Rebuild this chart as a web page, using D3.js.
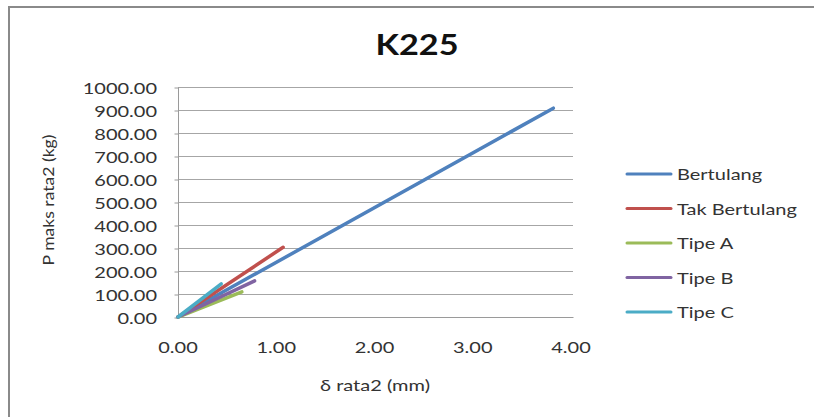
<!DOCTYPE html>
<html><head><meta charset="utf-8">
<script src="https://cdn.jsdelivr.net/npm/d3@7"></script>
<style>
html,body{margin:0;padding:0;background:#fff;}
svg{display:block;}
text{font-family:Lato,"Open Sans",sans-serif;fill:#333;}
</style></head>
<body><svg id="c" width="814" height="417"></svg>
<script>
const title = "K225";
const xTitle = "δ rata2 (mm)";
const yTitle = "P maks rata2 (kg)";
const seriesNames = ["Bertulang","Tak Bertulang","Tipe A","Tipe B","Tipe C"];
const seriesColors = ["#4F81BD","#C0504D","#9BBB59","#8064A2","#4BACC6"];
const deltaValues = [[0,3.82],[0,1.07],[0,0.65],[0,0.78],[0,0.44]];
const loadValues = [[0,908],[0,303],[0,109],[0,157],[0,144]];
const xTicks = [0,1,2,3,4];
const yTicks = [0,100,200,300,400,500,600,700,800,900,1000];

const svg = d3.select("#c");
const SX = 1.25;
svg.append("rect").attr("x",9).attr("y",7).attr("width",830).attr("height",430)
  .attr("fill","#fff").attr("stroke","#8a8a8a").attr("stroke-width",2);

const x = d3.scaleLinear().domain([0,4]).range([178,571]);
const y = d3.scaleLinear().domain([0,1000]).range([317,87]);

function txt(g, s, px, py, anchor, size, weight, sx){
  const t = g.append("text").text(s)
    .attr("transform",`translate(${px},${py}) scale(${sx||SX},1)`)
    .attr("text-anchor",anchor).attr("dominant-baseline","central")
    .style("font-size",size+"px");
  if(weight) t.style("font-weight",weight);
  return t;
}

// gridlines
const grid = svg.append("g");
yTicks.forEach(v=>{
  grid.append("line").attr("x1",178).attr("x2",573).attr("y1",y(v)+0.5).attr("y2",y(v)+0.5)
    .attr("stroke", v===0 ? "#9a9a9a" : "#a6a6a6").attr("stroke-width",1);
});
// axes via d3
const yAxis = svg.append("g").attr("transform","translate(178.5,0.5)")
  .call(d3.axisLeft(y).tickValues(yTicks).tickSize(4).tickFormat(""));
yAxis.select(".domain").attr("stroke","#9a9a9a").attr("d",`M0,${y(1000)}V${y(0)}`);
yAxis.selectAll(".tick line").attr("stroke","#9a9a9a");
const xAxis = svg.append("g").attr("transform","translate(0.5,317.5)")
  .call(d3.axisBottom(x).tickValues(xTicks).tickSize(0).tickFormat(""));
xAxis.select(".domain").attr("stroke","#9a9a9a").attr("d","M178,0H573");

// tick labels
yTicks.forEach(v=> txt(svg, d3.format(".2f")(v), 157, y(v)+1, "end", 16));
xTicks.forEach(v=> txt(svg, d3.format(".2f")(v), x(v), 347, "middle", 16));

// titles
txt(svg, title, 417, 44, "middle", 29, "bold", 1.18).style("fill","#111");
txt(svg, xTitle, 375, 385, "middle", 16);
svg.append("text").text(yTitle)
  .attr("transform",`translate(48,200) rotate(-90) scale(1.1,1)`)
  .attr("text-anchor","middle").attr("dominant-baseline","central")
  .style("font-size","16px");

// series
const line = d3.line().x(d=>x(d[0])).y(d=>y(d[1]));
seriesNames.forEach((n,i)=>{
  const pts = deltaValues[i].map((d,j)=>[d, loadValues[i][j]]);
  svg.append("path").attr("d",line(pts)).attr("fill","none")
    .attr("stroke",seriesColors[i]).attr("stroke-width",3.5).attr("stroke-linecap","round");
});
// legend
seriesNames.forEach((n,i)=>{
  const ly = 174 + i*34.5;
  svg.append("line").attr("x1",627).attr("x2",671).attr("y1",ly).attr("y2",ly)
    .attr("stroke",seriesColors[i]).attr("stroke-width",3).attr("stroke-linecap","round");
  txt(svg, n, 677, ly, "start", 16);
});
</script></body></html>
